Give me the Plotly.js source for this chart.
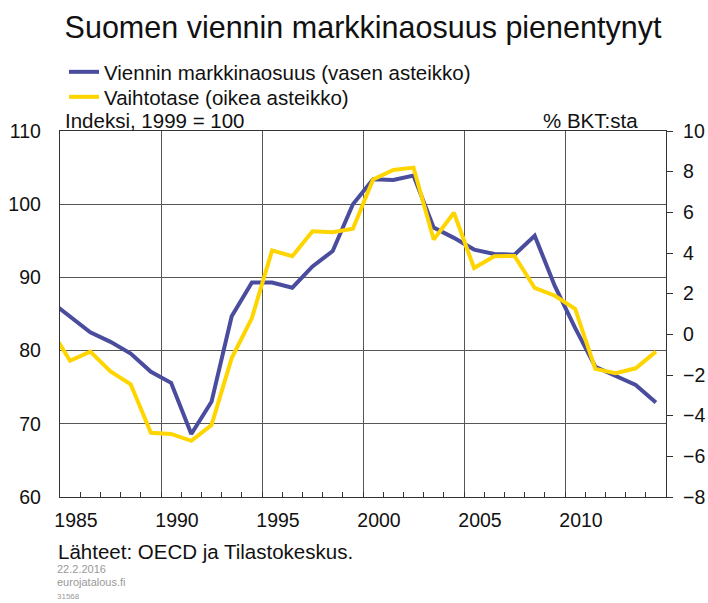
<!DOCTYPE html>
<html>
<head>
<meta charset="utf-8">
<script src="https://cdn.plot.ly/plotly-3.0.1.min.js"></script>
<style>html,body{margin:0;padding:0;background:#fff;}#chart{width:708px;height:603px;}</style>
</head>
<body>
<div id="chart"></div>
<script>
// Data (annual values; 1984 point lies just outside the axis range and is clipped)
const years = [1984,1985,1986,1987,1988,1989,1990,1991,1992,1993,1994,1995,1996,1997,1998,1999,2000,2001,2002,2003,2004,2005,2006,2007,2008,2009,2010,2011,2012,2013,2014];
const marketShare = [86.8,84.6,82.5,81.2,79.6,77.1,75.6,68.6,73.0,84.7,89.3,89.3,88.6,91.5,93.6,100.0,103.4,103.3,103.9,96.8,95.4,93.8,93.2,93.1,95.7,88.8,83.1,77.8,76.6,75.3,72.9];
const currentAccount = [0.3,-1.3,-0.85,-1.83,-2.46,-4.84,-4.9,-5.24,-4.46,-1.17,0.8,4.13,3.84,5.07,5.02,5.19,7.62,8.08,8.2,4.66,5.98,3.26,3.84,3.85,2.28,1.9,1.26,-1.7,-1.91,-1.67,-0.85];
const xTickVals = [1985,1990,1995,2000,2005,2010];
const xTickText = ["1985","1990","1995","2000","2005","2010"];
const seriesNames = ["Viennin markkinaosuus (vasen asteikko)","Vaihtotase (oikea asteikko)"];

const FONT = 'Arial, "Liberation Sans", sans-serif';
const xMid = years.map(y => y + 0.5); // values plotted at mid-year

// plot area in pixels (for placing free texts in paper coordinates)
const PL = 60, PR = 666, PT = 131, PB = 497;
const px = v => (v - PL) / (PR - PL);
const py = v => (PB - v) / (PB - PT);

const traces = [
  {x: xMid, y: marketShare, name: seriesNames[0], type: 'scatter', mode: 'lines',
   line: {color: '#4a4c9e', width: 4}, yaxis: 'y', legend: 'legend'},
  {x: xMid, y: currentAccount, name: seriesNames[1], type: 'scatter', mode: 'lines',
   line: {color: '#ffd500', width: 4}, yaxis: 'y2', legend: 'legend2'}
];

const legendBase = {xref: 'container', yref: 'container', x: 64/708, xanchor: 'left', yanchor: 'middle',
  font: {family: FONT, size: 20.5, color: '#111'}, bgcolor: 'rgba(0,0,0,0)', itemwidth: 30, borderwidth: 0};

const layout = {
  width: 708, height: 603,
  margin: {l: 60, r: 42, t: 131, b: 106, autoexpand: false},
  paper_bgcolor: '#fff', plot_bgcolor: '#fff',
  font: {family: FONT, color: '#111', size: 20},
  title: {text: 'Suomen viennin markkinaosuus pienentynyt', font: {family: FONT, size: 30.5, color: '#111'},
          xref: 'container', yref: 'container', x: 363/708, xanchor: 'center', y: 1 - 27/603, yanchor: 'middle'},
  showlegend: true,
  legend: Object.assign({}, legendBase, {y: 1 - 72/603}),
  legend2: Object.assign({}, legendBase, {y: 1 - 97/603}),
  xaxis: {range: [1985, 2015], tickvals: xTickVals, ticktext: xTickText, showgrid: true, gridcolor: '#555', gridwidth: 1,
          zeroline: false, showline: true, linecolor: '#333', linewidth: 1.2, mirror: true,
          ticks: 'inside', ticklen: 5, tickcolor: '#333', tickangle: 0, automargin: false,
          minor: {dtick: 1, ticks: 'inside', ticklen: 5, tickcolor: '#333', showgrid: false},
          tickfont: {family: FONT, size: 19.5, color: '#111'}, ticklabelshift: 16, ticklabelstandoff: 5},
  yaxis: {range: [60, 110], dtick: 10, showgrid: true, gridcolor: '#555', gridwidth: 1, zeroline: false, automargin: false,
          showline: true, linecolor: '#333', linewidth: 1.2, mirror: true, ticks: '',
          tickfont: {family: FONT, size: 19.5, color: '#111'}, ticklabelstandoff: 14},
  yaxis2: {range: [-8, 10], dtick: 2, overlaying: 'y', side: 'right', showgrid: false, zeroline: false, automargin: false,
           showline: true, linecolor: '#333', linewidth: 1.2, ticks: 'outside', ticklen: 6, tickcolor: '#333',
           tickfont: {family: FONT, size: 19.5, color: '#111'}, ticklabelstandoff: 6},
  annotations: [
    {text: 'Indeksi, 1999 = 100', xref: 'paper', yref: 'paper', x: px(63), y: py(121), xanchor: 'left', yanchor: 'middle',
     showarrow: false, font: {family: FONT, size: 20.5, color: '#111'}},
    {text: '% BKT:sta', xref: 'paper', yref: 'paper', x: px(640), y: py(121), xanchor: 'right', yanchor: 'middle',
     showarrow: false, font: {family: FONT, size: 20.5, color: '#111'}},
    {text: 'Lähteet: OECD ja Tilastokeskus.', xref: 'paper', yref: 'paper', x: px(56), y: py(551),
     xanchor: 'left', yanchor: 'middle', showarrow: false, font: {family: FONT, size: 20.5, color: '#111'}},
    {text: '22.2.2016', xref: 'paper', yref: 'paper', x: px(55), y: py(569),
     xanchor: 'left', yanchor: 'middle', showarrow: false, font: {family: FONT, size: 11, color: '#999'}},
    {text: 'eurojatalous.fi', xref: 'paper', yref: 'paper', x: px(55), y: py(582),
     xanchor: 'left', yanchor: 'middle', showarrow: false, font: {family: FONT, size: 11, color: '#999'}},
    {text: '31568', xref: 'paper', yref: 'paper', x: px(55), y: py(596),
     xanchor: 'left', yanchor: 'middle', showarrow: false, font: {family: FONT, size: 8, color: '#999'}}
  ]
};

Plotly.newPlot('chart', traces, layout, {staticPlot: true, displayModeBar: false});
</script>
</body>
</html>
